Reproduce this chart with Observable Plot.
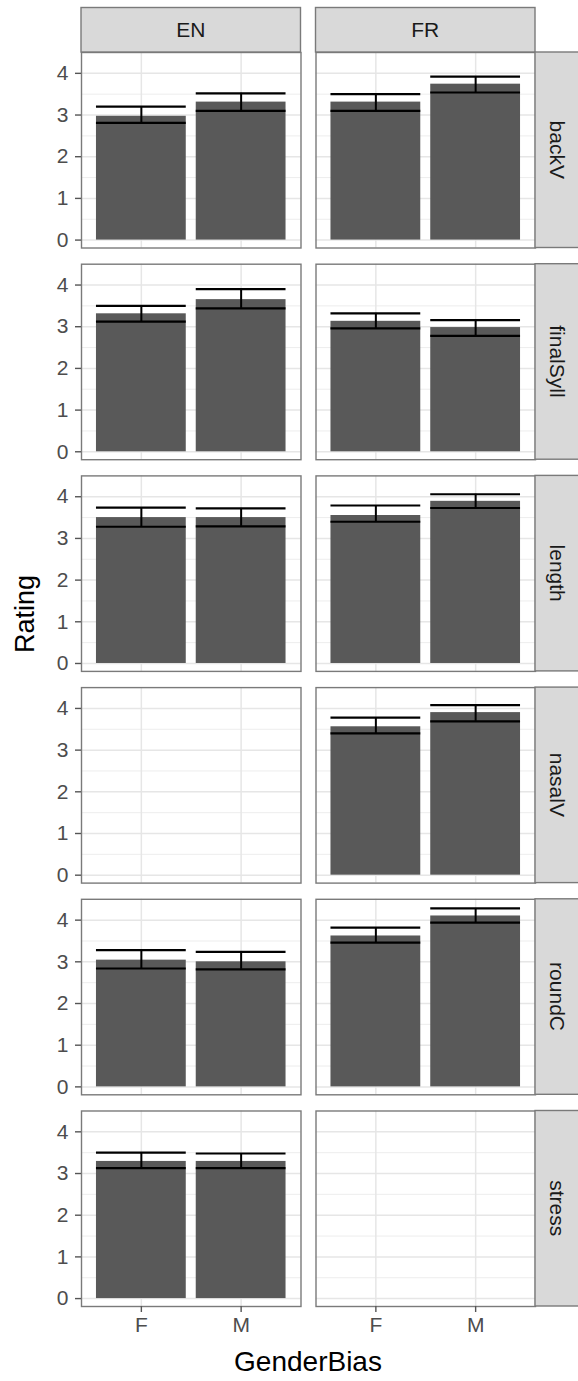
<!DOCTYPE html>
<html><head><meta charset="utf-8">
<script src="https://cdn.jsdelivr.net/npm/d3@7"></script>
<script src="https://cdn.jsdelivr.net/npm/@observablehq/plot@0.6"></script>
<style>body{margin:0;background:#fff} svg{display:block}</style>
</head><body><div id="chart"></div>
<script>
const languages = ["EN", "FR"];
const features = ["backV", "finalSyll", "length", "nasalV", "roundC", "stress"];
const genders = ["F", "M"];
const majorTicks = [0, 1, 2, 3, 4];
const minorTicks = [0.5, 1.5, 2.5, 3.5];

const barLanguage = ["EN","EN","FR","FR", "EN","EN","FR","FR", "EN","EN","FR","FR", "FR","FR", "EN","EN","FR","FR", "EN","EN"];
const barFeature  = ["backV","backV","backV","backV", "finalSyll","finalSyll","finalSyll","finalSyll", "length","length","length","length", "nasalV","nasalV", "roundC","roundC","roundC","roundC", "stress","stress"];
const barGender   = ["F","M","F","M", "F","M","F","M", "F","M","F","M", "F","M", "F","M","F","M", "F","M"];
const ratingMean  = [2.97,3.31,3.31,3.74, 3.31,3.65,3.13,2.98, 3.50,3.50,3.55,3.89, 3.56,3.90, 3.04,3.00,3.62,4.10, 3.29,3.29];
const ratingLow   = [2.81,3.10,3.10,3.54, 3.12,3.44,2.96,2.78, 3.28,3.29,3.40,3.73, 3.40,3.69, 2.84,2.82,3.46,3.94, 3.13,3.13];
const ratingHigh  = [3.20,3.52,3.50,3.92, 3.50,3.90,3.32,3.16, 3.74,3.72,3.79,4.06, 3.78,4.08, 3.28,3.24,3.82,4.28, 3.50,3.48];

const bars = barLanguage.map((l, i) => ({
  lang: l, feature: barFeature[i], gender: barGender[i],
  mean: ratingMean[i], lo: ratingLow[i], hi: ratingHigh[i]
}));
const majorGrid = d3.cross(languages, features, majorTicks).map(([lang, feature, v]) => ({lang, feature, v}));
const minorGrid = d3.cross(languages, features, minorTicks).map(([lang, feature, v]) => ({lang, feature, v}));
const xGrid = d3.cross(languages, features, genders).map(([lang, feature, g]) => ({lang, feature, g}));

const W = 578, H = 1381;
const mT = 52, mB = 75, mL = 81, mR = 43;
const font = "'Liberation Sans', Arial, Helvetica, sans-serif";
const border = "#7a7a7a";

const plot = Plot.plot({
  width: W, height: H,
  marginTop: mT, marginBottom: mB, marginLeft: mL, marginRight: mR,
  style: {fontFamily: font, background: "white", overflow: "visible"},
  fx: {domain: languages, paddingInner: 0.064, paddingOuter: 0, round: false, axis: null},
  fy: {domain: features, paddingInner: 0.0765, paddingOuter: 0, round: false, axis: null},
  x: {domain: genders, paddingInner: 0.1, paddingOuter: 0.15, round: false},
  y: {domain: [-0.19, 4.5]},
  marks: [
    Plot.ruleY(minorGrid, {y: "v", fx: "lang", fy: "feature", stroke: "#ebebeb", strokeWidth: 0.9}),
    Plot.ruleY(majorGrid, {y: "v", fx: "lang", fy: "feature", stroke: "#e6e6e6", strokeWidth: 1.5}),
    Plot.ruleX(xGrid, {x: "g", fx: "lang", fy: "feature", stroke: "#e6e6e6", strokeWidth: 1.5}),
    Plot.barY(bars, {x: "gender", y1: 0, y2: "mean", fx: "lang", fy: "feature", fill: "#595959"}),
    Plot.ruleX(bars, {x: "gender", y1: "lo", y2: "hi", fx: "lang", fy: "feature", stroke: "black", strokeWidth: 2}),
    Plot.tickY(bars, {x: "gender", y: "lo", fx: "lang", fy: "feature", stroke: "black", strokeWidth: 2.2}),
    Plot.tickY(bars, {x: "gender", y: "hi", fx: "lang", fy: "feature", stroke: "black", strokeWidth: 2.2}),
    Plot.frame({stroke: border, strokeWidth: 1.4}),
    Plot.axisY({ticks: majorTicks, tickFormat: (d) => String(d), tickSize: 6, tickPadding: 7, fontSize: 21, color: "#4d4d4d", stroke: "#555", strokeWidth: 1.4, label: null}),
    Plot.axisX({tickSize: 6, tickPadding: 5, fontSize: 21, color: "#4d4d4d", stroke: "#555", strokeWidth: 1.4, label: null})
  ]
});

document.getElementById("chart").appendChild(plot);

// strips and axis titles, positioned with Plot's facet scales
const svg = d3.select(plot);
const fx = plot.scale("fx"), fy = plot.scale("fy");
const bwx = fx.bandwidth, bwy = fy.bandwidth;
const strips = svg.append("g").attr("font-family", font);
const stripTop = 7.5;
for (const l of languages) {
  const x0 = fx.apply(l);
  strips.append("rect").attr("x", x0).attr("y", stripTop).attr("width", bwx).attr("height", mT - stripTop)
    .attr("fill", "#d9d9d9").attr("stroke", border).attr("stroke-width", 1.4);
  strips.append("text").attr("x", x0 + bwx / 2).attr("y", (stripTop + mT) / 2).attr("dy", "0.36em")
    .attr("text-anchor", "middle").attr("font-size", 21).attr("fill", "#1a1a1a").text(l);
}
const xr = W - mR;
for (const f of features) {
  const y0 = fy.apply(f);
  strips.append("rect").attr("x", xr).attr("y", y0).attr("width", 60).attr("height", bwy)
    .attr("fill", "#d9d9d9").attr("stroke", border).attr("stroke-width", 1.4);
  strips.append("text").attr("transform", `translate(${xr + 22.5},${y0 + bwy / 2}) rotate(90)`)
    .attr("dy", "0.36em").attr("text-anchor", "middle").attr("font-size", 21).attr("fill", "#1a1a1a").text(f);
}
svg.append("text").attr("font-family", font).attr("font-size", 27).attr("fill", "black")
  .attr("text-anchor", "middle").attr("transform", `translate(24,614) rotate(-90)`)
  .attr("dy", "0.36em").text("Rating");
svg.append("text").attr("font-family", font).attr("font-size", 28).attr("fill", "black")
  .attr("text-anchor", "middle").attr("x", (mL + W - mR) / 2).attr("y", 1371).text("GenderBias");
</script>
</body></html>
